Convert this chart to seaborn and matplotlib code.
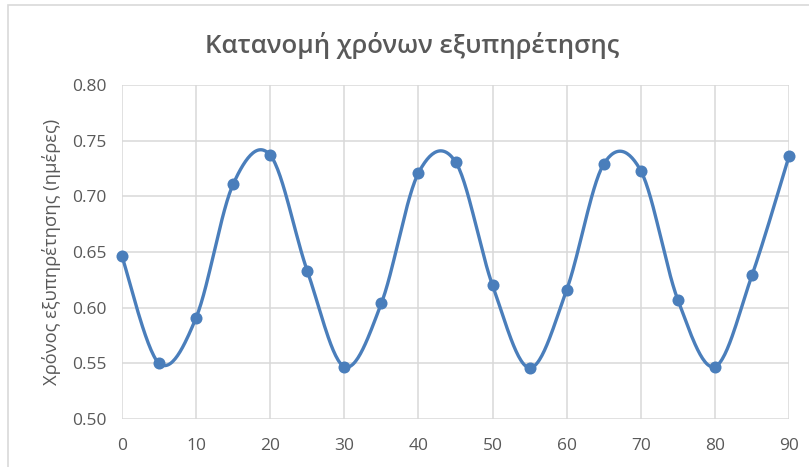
import numpy as np
import pandas as pd
import matplotlib
matplotlib.use("Agg")
import matplotlib.pyplot as plt
import seaborn as sns
from matplotlib.patches import Rectangle

# Service-time samples
days = [0, 5, 10, 15, 20, 25, 30, 35, 40, 45, 50, 55, 60, 65, 70, 75, 80, 85, 90]
service_time = [0.646, 0.550, 0.591, 0.711, 0.737, 0.633, 0.547, 0.604, 0.721, 0.731,
                0.620, 0.546, 0.616, 0.729, 0.723, 0.607, 0.547, 0.629, 0.736]

title = "Κατανομή χρόνων εξυπηρέτησης"
ylabel = "Χρόνος εξυπηρέτησης (ημέρες)"
xticks = [0, 10, 20, 30, 40, 50, 60, 70, 80, 90]
yticks = [0.50, 0.55, 0.60, 0.65, 0.70, 0.75, 0.80]

LINE = "#4a7ebb"
TEXT = "#595959"
GRID = "#d9d9d9"


def smooth_curve(x, y, steps=30):
    """Catmull-Rom style Bezier smoothing through the given points."""
    x = np.asarray(x, float)
    y = np.asarray(y, float)
    pts = np.column_stack([x, y])
    n = len(pts)
    out = []
    for i in range(n - 1):
        p0 = pts[max(i - 1, 0)]
        p1 = pts[i]
        p2 = pts[i + 1]
        p3 = pts[min(i + 2, n - 1)]
        c1 = p1 + (p2 - p0) / 6.0
        c2 = p2 - (p3 - p1) / 6.0
        t = np.linspace(0, 1, steps, endpoint=(i == n - 2))[:, None]
        seg = ((1 - t) ** 3) * p1 + 3 * ((1 - t) ** 2) * t * c1 + 3 * (1 - t) * t ** 2 * c2 + t ** 3 * p2
        out.append(seg)
    seg = np.vstack(out)
    return seg[:, 0], seg[:, 1]


sns.set_theme(style="white")
plt.rcParams["font.family"] = ["Open Sans", "DejaVu Sans"]

fig = plt.figure(figsize=(8.09, 4.67), dpi=100)
fig.patch.set_facecolor("white")
ax = fig.add_axes([122 / 809, 1 - 419 / 467, (789 - 122) / 809, (419 - 85) / 467])

# chart-area frame
fig.patches.append(Rectangle((8 / 809, -0.05), 1.2, 1 - 5 / 467 + 0.05,
                             transform=fig.transFigure, fill=False,
                             edgecolor="#d9d9d9", linewidth=1.2, zorder=0))

data = pd.DataFrame({"day": days, "time": service_time})
sx, sy = smooth_curve(days, service_time)
curve = pd.DataFrame({"day": sx, "time": sy})

sns.lineplot(data=curve, x="day", y="time", ax=ax, color=LINE, linewidth=2.4,
             sort=False, estimator=None, zorder=3, clip_on=False)
sns.scatterplot(data=data, x="day", y="time", ax=ax, color=LINE, s=75,
                edgecolor=LINE, linewidth=0, zorder=4, clip_on=False)

ax.set_xlim(0, 90)
ax.set_ylim(0.50, 0.80)
ax.set_xticks(xticks)
ax.set_yticks(yticks)
ax.set_xticklabels([str(v) for v in xticks])
ax.set_yticklabels([f"{v:.2f}" for v in yticks])
ax.grid(True, color=GRID, linewidth=1.1)
ax.set_axisbelow(True)
for s in ax.spines.values():
    s.set_visible(False)
ax.tick_params(axis="both", length=0, colors=TEXT, labelsize=12.5)
ax.tick_params(axis="x", pad=14)
ax.tick_params(axis="y", pad=11)
ax.set_xlabel("")
ax.set_ylabel(ylabel, color=TEXT, fontsize=13.2, labelpad=8)

fig.text(0.5 + 8 / 809, 1 - 45 / 467, title, ha="center", va="center",
         fontsize=18.5, color=TEXT, fontweight="semibold")

fig.savefig("out.png", dpi=100, facecolor="white")
